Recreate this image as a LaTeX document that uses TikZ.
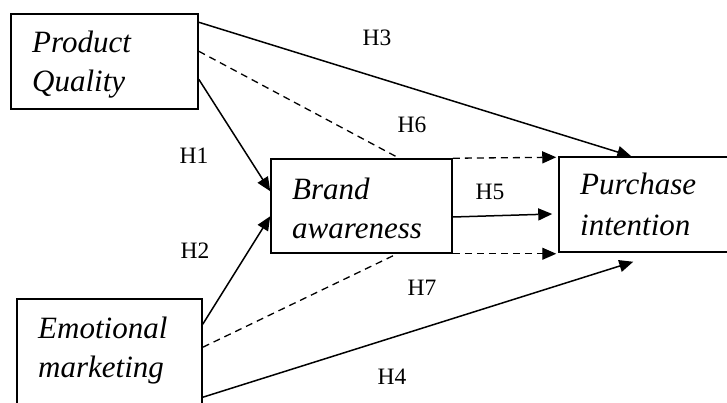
\documentclass[tikz,border=0pt]{standalone}
\usepackage{fontspec}
\setmainfont{Liberation Serif}
\usetikzlibrary{arrows.meta}
\tikzset{
  box/.style={draw, line width=1.5pt, inner sep=0pt, fill=none},
  boxtext/.style={anchor=base west, inner sep=0pt, font=\fontsize{31}{39}\selectfont\itshape},
  hlabel/.style={inner sep=0pt, font=\fontsize{23.5}{27}\selectfont},
  link/.style={line width=1.5pt},
  arr/.style={link, -{Triangle[length=14pt,width=12pt]}},
  dsh/.style={line width=1.3pt, dash pattern=on 7pt off 5pt},
}
\begin{document}
\begin{tikzpicture}[x=1pt,y=-1pt]
\useasboundingbox (0,0) rectangle (727,403);
\fill[white] (0,0) rectangle (727,403);
% boxes
\node[box, minimum width=187pt, minimum height=95pt] (pq) at (104.5,61.5) {};
\node[box, minimum width=181pt, minimum height=94pt] (ba) at (361.5,206) {};
\node[box, minimum width=190pt, minimum height=95pt] (pi) at (654,204.5) {};
\node[box, minimum width=185pt, minimum height=121pt] (em) at (109.5,359.5) {};
% box texts
\node[boxtext] (pq1) at (32,53) {Product};
\node[boxtext] (pq2) at (32,92) {Quality};
\node[boxtext] (ba1) at (292,200) {Brand};
\node[boxtext] (ba2) at (292,238) {awareness};
\node[boxtext] (pi1) at (580,195) {Purchase};
\node[boxtext] (pi2) at (580,235) {intention};
\node[boxtext] (em1) at (38,338) {Emotional};
\node[boxtext] (em2) at (38,377) {marketing};
% connectors
\draw[arr] ([yshift=-9pt]pq.north east) -- ([xshift=73pt]pi.north west);
\draw[dsh] ([yshift=-38pt]pq.north east) -- ([xshift=129pt]ba.north west);
\draw[dsh, -{Triangle[length=14pt,width=12pt]}] (ba.north east) -- ([xshift=-2pt,yshift=-1pt]pi.north west);
\draw[arr] ([yshift=-66pt]pq.north east) -- ([yshift=-33pt]ba.north west);
\draw[arr] ([yshift=-26pt]em.north east) -- ([yshift=-58pt]ba.north west);
\draw[dsh] ([yshift=-49pt]em.north east) -- ([xshift=127pt]ba.south west);
\draw[dsh, -{Triangle[length=14pt,width=12pt]}] (ba.south east) -- ([xshift=-2pt,yshift=-1pt]pi.south west);
\draw[arr] ([yshift=-11pt]ba.east) -- ([xshift=-6pt,yshift=-9.5pt]pi.west);
\draw[arr] ([yshift=-99pt]em.north east) -- ([xshift=75pt,yshift=-9pt]pi.south west);
% labels
\node[hlabel] (h3) at (377,38) {H3};
\node[hlabel] (h6) at (412,125) {H6};
\node[hlabel] (h1) at (194,156) {H1};
\node[hlabel] (h2) at (195,251) {H2};
\node[hlabel] (h5) at (490,192) {H5};
\node[hlabel] (h7) at (422,288) {H7};
\node[hlabel] (h4) at (392,377) {H4};
\end{tikzpicture}
\end{document}
